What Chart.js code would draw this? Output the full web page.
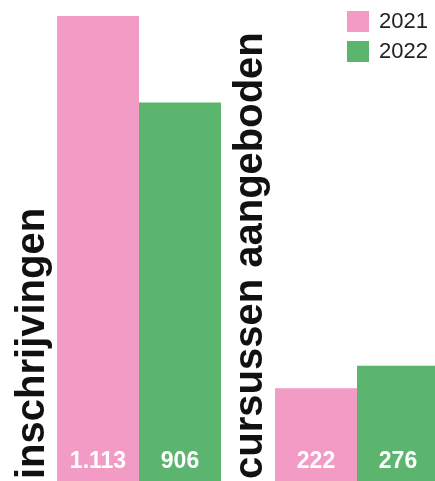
<!DOCTYPE html>
<html>
<head>
<meta charset="utf-8">
<script src="https://cdn.jsdelivr.net/npm/chart.js@4"></script>
<style>
  html, body { margin: 0; padding: 0; background: #fff; overflow: hidden; }
  #wrap { width: 466px; height: 481px; position: relative; }
</style>
</head>
<body>
<div id="wrap"><canvas id="myChart"></canvas></div>
<script>
  const categories = ['inschrijvingen', 'cursussen aangeboden'];
  const years = ['2021', '2022'];
  const values2021 = [1113, 222];
  const values2022 = [906, 276];

  const pink = 'rgb(242, 155, 196)';
  const green = 'rgb(92, 181, 110)';

  // 1113 -> 1.113
  const fmt = (v) => String(v).replace(/\B(?=(\d{3})+(?!\d))/g, '.');

  // white value at the foot of each bar
  const valueLabels = {
    id: 'valueLabels',
    afterDatasetsDraw(chart) {
      const ctx = chart.ctx;
      ctx.save();
      ctx.fillStyle = '#fff';
      ctx.font = 'bold 23px "Liberation Sans", Arial, sans-serif';
      ctx.textAlign = 'center';
      ctx.textBaseline = 'alphabetic';
      chart.data.datasets.forEach((ds, i) => {
        chart.getDatasetMeta(i).data.forEach((bar, j) => {
          ctx.fillText(fmt(ds.data[j]), bar.x, chart.chartArea.bottom - 13);
        });
      });
      ctx.restore();
    }
  };

  // rotated category names left of each group
  const categoryLabels = {
    id: 'categoryLabels',
    afterDatasetsDraw(chart) {
      const ctx = chart.ctx;
      const meta = chart.getDatasetMeta(0);
      ctx.save();
      ctx.fillStyle = '#111';
      ctx.font = 'bold 40px "Liberation Sans", Arial, sans-serif';
      ctx.textAlign = 'left';
      ctx.textBaseline = 'alphabetic';
      chart.data.labels.forEach((lab, j) => {
        const bar = meta.data[j];
        const left = bar.x - bar.width / 2;
        ctx.save();
        ctx.translate(left - 13, chart.chartArea.bottom - 2);
        ctx.rotate(-Math.PI / 2);
        ctx.fillText(lab, 0, 0);
        ctx.restore();
      });
      ctx.restore();
    }
  };

  // legend top right
  const cornerLegend = {
    id: 'cornerLegend',
    afterDraw(chart) {
      const ctx = chart.ctx;
      ctx.save();
      ctx.font = '22px "Liberation Sans", Arial, sans-serif';
      ctx.textAlign = 'left';
      ctx.textBaseline = 'middle';
      chart.data.datasets.forEach((ds, i) => {
        const y = 11 + i * 30;
        ctx.fillStyle = ds.backgroundColor;
        ctx.fillRect(347, y, 22, 21);
        ctx.fillStyle = '#222';
        ctx.fillText(ds.label, 379, y + 11);
      });
      ctx.restore();
    }
  };

  const data = {
    labels: categories,
    datasets: [
      {
        label: years[0],
        data: values2021,
        backgroundColor: pink,
        categoryPercentage: 0.752,
        barPercentage: 1,
      },
      {
        label: years[1],
        data: values2022,
        backgroundColor: green,
        categoryPercentage: 0.752,
        barPercentage: 1,
      }
    ]
  };

  const config = {
    type: 'bar',
    data: data,
    options: {
      responsive: true,
      maintainAspectRatio: false,
      animation: false,
      layout: { padding: { left: 30, right: 0, top: 0, bottom: 0 } },
      scales: {
        x: { display: false },
        y: { display: false, min: 0, max: 1151 }
      },
      plugins: {
        legend: { display: false },
        tooltip: { enabled: false }
      }
    },
    plugins: [valueLabels, categoryLabels, cornerLegend]
  };

  const myChart = new Chart(document.getElementById('myChart'), config);
</script>
</body>
</html>
